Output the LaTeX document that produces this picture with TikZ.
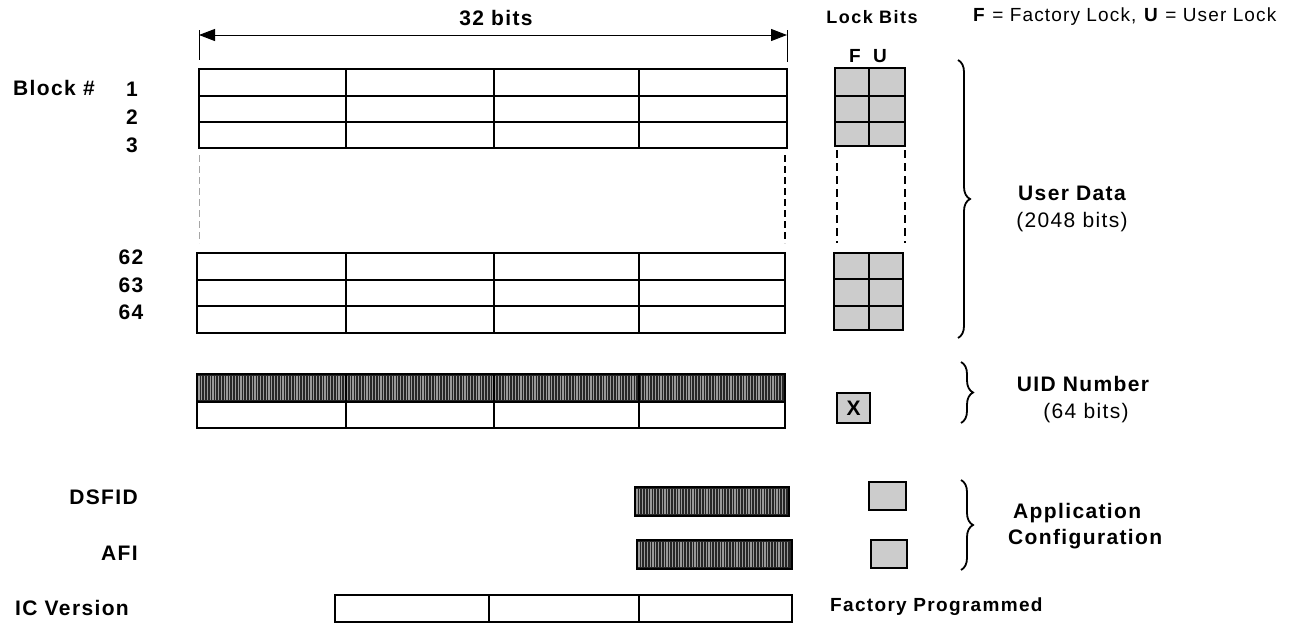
\documentclass[tikz,border=0pt]{standalone}
\usepackage{fontspec}
\setmainfont{Liberation Sans}
\newfontfamily\lsp[LetterSpace=6.5]{Liberation Sans}
\newfontfamily\lspb[LetterSpace=8]{Liberation Sans}
\newfontfamily\lspc[LetterSpace=6]{Liberation Sans}
\newfontfamily\lspd[LetterSpace=7]{Liberation Sans}
\usetikzlibrary{arrows.meta,decorations.pathreplacing}
\begin{document}
\begin{tikzpicture}[x=1pt,y=-1pt,
  big/.style={font=\lsp\bfseries\fontsize{21}{25}\selectfont, inner sep=0pt},
  bigr/.style={font=\lsp\fontsize{21}{25}\selectfont, inner sep=0pt},
  med/.style={font=\lspb\bfseries\fontsize{18}{22}\selectfont, inner sep=0pt},
  tbl/.style={draw=black, line width=1.7pt},
  sep/.style={draw=black, line width=2.9pt},
  lockcell/.style={draw=black, fill=black!20, line width=1.7pt},
  dimline/.style={draw=black, line width=1pt},
  stripebg/.style={fill=black!85},
  stripeln/.style={draw=black!40, line width=1.1pt},
  bracestyle/.style={draw=black, line width=1.8pt, decorate, decoration={brace, amplitude=12pt}},
  dashside/.style={draw=black, line width=1.4pt, dash pattern=on 7pt off 4pt},
  dashfaint/.style={draw=black!35, line width=0.8pt, dash pattern=on 7pt off 4pt},
  lockdash/.style={draw=black, line width=2.6pt, dash pattern=on 8pt off 5pt}
]
\useasboundingbox (0,0) rectangle (1295,624);

% ---- 32 bits dimension ----
\coordinate (tl1) at (199,30); \coordinate (tl2) at (199,60);
\coordinate (tr1) at (787,30); \coordinate (tr2) at (787,62);
\draw[dimline] (tl1) -- (tl2);
\draw[dimline] (tr1) -- (tr2);
\coordinate (al) at (199,35); \coordinate (ar) at (787,35);
\draw[dimline, {Triangle[length=16pt,width=12pt]}-{Triangle[length=16pt,width=12pt]}] (al) -- (ar);
\node[big] (bits) at (496,18) {32 bits};

% ---- header right ----
\node[med] (lockbits) at (872,17) {Lock Bits};
\node[font=\lspc\fontsize{19}{23}\selectfont, inner sep=0pt, anchor=west] (legend) at (973,17) {\textbf{F} = Factory Lock, \textbf{U} = User Lock};
\node[big, font=\lsp\bfseries\fontsize{19}{23}\selectfont] (fl) at (855,56) {F};
\node[big, font=\lsp\bfseries\fontsize{19}{23}\selectfont] (ul) at (880,56) {U};

% ---- blocks 1-3 ----
\draw[tbl] (199,69) rectangle (787,148);
\foreach \x in {346,494,639} \draw[tbl] (\x,69) -- (\x,148);
\foreach \y in {96,122} \draw[sep] (199,\y) -- (787,\y);

% dashed continuation
\draw[dashfaint] (199,155) -- (199,243);
\draw[dashside] (785,155) -- (785,243);

% ---- blocks 62-64 ----
\draw[tbl] (197,253) rectangle (785,333);
\foreach \x in {346,494,639} \draw[tbl] (\x,253) -- (\x,333);
\foreach \y in {280,306} \draw[sep] (197,\y) -- (785,\y);

% ---- UID ----
\fill[stripebg] (197,374) rectangle (785,402);
\foreach \x in {199,201.8,...,783} \draw[stripeln] (\x,376) -- (\x,400);
\draw[tbl] (197,374) rectangle (785,428);
\draw[sep] (197,402) -- (785,402);
\foreach \x in {346,494,639} \draw[tbl] (\x,374) -- (\x,428);

% ---- DSFID / AFI ----
\fill[stripebg] (635,487) rectangle (789,516);
\foreach \x in {637,639.8,...,787} \draw[stripeln] (\x,489) -- (\x,514);
\draw[tbl] (635,487) rectangle (789,516);
\fill[stripebg] (637,540) rectangle (792,569);
\foreach \x in {639,641.8,...,790} \draw[stripeln] (\x,542) -- (\x,567);
\draw[tbl] (637,540) rectangle (792,569);

% ---- IC Version ----
\draw[tbl] (335,595) rectangle (792,622);
\foreach \x in {489,639} \draw[tbl] (\x,595) -- (\x,622);

% ---- lock bits ----
\draw[lockcell] (835,68) rectangle (905,146);
\draw[tbl] (869,68) -- (869,146);
\foreach \y in {96,122} \draw[tbl] (835,\y) -- (905,\y);
\draw[lockdash] (837,150) -- (837,243);
\draw[lockdash] (905,150) -- (905,243);
\draw[lockcell] (834,253) rectangle (903,330);
\draw[tbl] (869,253) -- (869,330);
\foreach \y in {279,306} \draw[tbl] (834,\y) -- (903,\y);
\node[lockcell, minimum width=33pt, minimum height=30pt, inner sep=0pt, font=\bfseries\fontsize{21}{25}\selectfont] (xbox) at (853.5,408) {X};
\draw[lockcell] (869,482) rectangle (906,510);
\draw[lockcell] (871,540) rectangle (907,568);

% ---- braces ----
\coordinate (b1t) at (958,60); \coordinate (b1b) at (958,338);
\draw[bracestyle] (b1t) -- (b1b);
\coordinate (b2t) at (961,362); \coordinate (b2b) at (961,423);
\draw[bracestyle] (b2t) -- (b2b);
\coordinate (b3t) at (961,480); \coordinate (b3b) at (961,570);
\draw[bracestyle] (b3t) -- (b3b);

\node[big] (ud) at (1072,193) {User Data};
\node[bigr] (ud2) at (1072,222) {(2048 bits)};
\node[big] (uid) at (1083,384) {UID Number};
\node[bigr] (uid2) at (1086,413) {(64 bits)};
\node[big, anchor=west] (app) at (1013,513) {Application};
\node[big, anchor=west] (conf) at (1008,539) {Configuration};

% ---- left labels ----
\node[big, anchor=west] (blk) at (13,88) {Block \#};
\node[big] (n1) at (132,89) {1};
\node[big] (n2) at (132,117) {2};
\node[big] (n3) at (132,145) {3};
\node[big] (n62) at (131,257) {62};
\node[big] (n63) at (131,285) {63};
\node[big] (n64) at (131,312) {64};
\node[big, anchor=east] (dsfid) at (138,497) {DSFID};
\node[big, anchor=east] (afi) at (138,553) {AFI};
\node[big, anchor=west] (icv) at (15,608) {IC Version};
\node[font=\lspd\bfseries\fontsize{19}{23}\selectfont, inner sep=0pt, anchor=west] (fp) at (830,607) {Factory Programmed};
\end{tikzpicture}
\end{document}
